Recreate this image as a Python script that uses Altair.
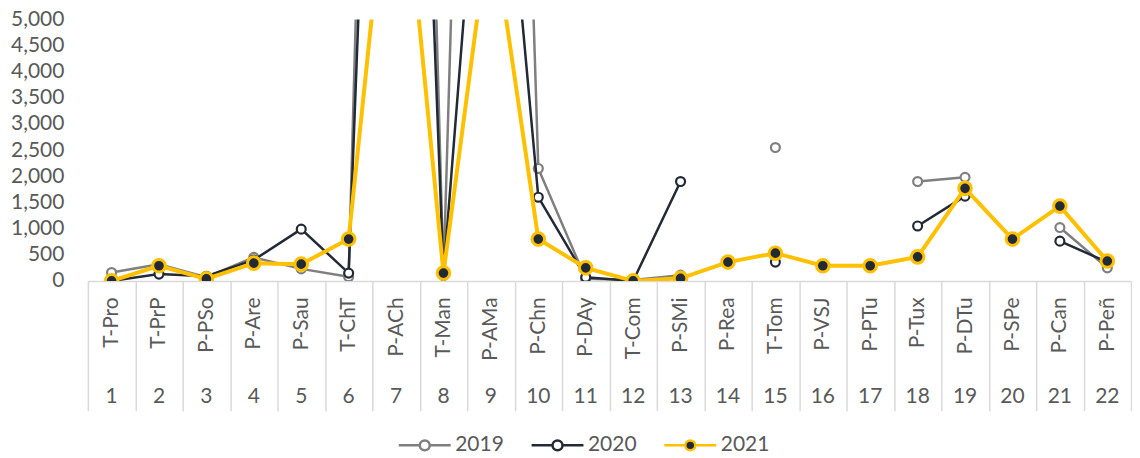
import altair as alt
import pandas as pd

names = ["T-Pro", "T-PrP", "P-PSo", "P-Are", "P-Sau", "T-ChT", "P-ACh", "T-Man",
         "P-AMa", "P-Chn", "P-DAy", "T-Com", "P-SMi", "P-Rea", "T-Tom", "P-VSJ",
         "P-PTu", "P-Tux", "P-DTu", "P-SPe", "P-Can", "P-Peñ"]
nums = ["1", "2", "3", "4", "5", "6", "7", "8", "9", "10", "11",
        "12", "13", "14", "15", "16", "17", "18", "19", "20", "21", "22"]

years = ["2019", "2020", "2021"]
v2019 = [160, 320, 70, 450, 230, 80, 33000, 100, 31000, 2150, 40, 20, 110, None,
         2550, None, None, 1900, 1980, None, 1020, 250]
v2020 = [0, 130, 90, 400, 990, 150, 24000, 120, 11600, 1600, 70, 0, 1900, None,
         360, None, None, 1050, 1620, None, 760, 360]
v2021 = [0, 290, 40, 340, 320, 800, 9500, 150, 7000, 800, 250, 0, 50, 360,
         530, 290, 290, 460, 1770, 800, 1430, 380]

line_colors = ["#7f7f7f", "#222a35", "#ffc000"]
marker_fills = ["#ffffff", "#ffffff", "#222a35"]

rows = []
for year, vals in zip(years, [v2019, v2020, v2021]):
    seg = 0
    for name, num, v in zip(names, nums, vals):
        if v is None:
            seg += 1
            continue
        rows.append(dict(year=year, name=name, num=num, value=v, seg=seg))
df = pd.DataFrame(rows)
labels_df = pd.DataFrame({"name": names, "num": nums})

W, H = 1045, 262
TXT = "#595959"
FS = 21

x_enc = alt.X(
    "name:N", sort=names,
    scale=alt.Scale(type="band", paddingInner=0, paddingOuter=0),
    axis=alt.Axis(title=None, labelAngle=270, labelAlign="right", labelBaseline="middle",
                  tickBand="extent", tickSize=130, tickColor="#d9d9d9", tickWidth=1.5,
                  domainColor="#d9d9d9", domainWidth=1.5, labelPadding=-114,
                  labelFontSize=FS, labelColor=TXT, labelOverlap=False, labelFlush=False),
)
y_enc = alt.Y(
    "value:Q",
    scale=alt.Scale(domain=[0, 5000], nice=False),
    axis=alt.Axis(title=None, values=list(range(0, 5001, 500)), format=",.0f", domain=False,
                  ticks=False, grid=False, labelPadding=24, labelFontSize=FS, labelColor=TXT),
)

sym = "M-2.6,0L-0.5,0M0.5,0L2.6,0M-0.5,0A0.5,0.5,0,1,0,0.5,0A0.5,0.5,0,1,0,-0.5,0Z"
legend = alt.Legend(title=None, orient="none", legendX=326, legendY=415, direction="horizontal",
                    symbolType=sym, symbolSize=400, symbolStrokeWidth=2.5,
                    labelFontSize=FS, labelColor=TXT, labelOffset=19, columnPadding=22)
stroke_enc = alt.Stroke("year:N", scale=alt.Scale(domain=years, range=line_colors), legend=legend)
fill_enc = alt.Fill("year:N", scale=alt.Scale(domain=years, range=marker_fills), legend=legend)

layers = []
widths = {"2019": 2.5, "2020": 2.5, "2021": 4}
sizes = {"2019": 80, "2020": 80, "2021": 160}
swidths = {"2019": 2.2, "2020": 2.2, "2021": 3}
for yr in years:
    base = alt.Chart(df).transform_filter(alt.datum.year == yr)
    layers.append(base.mark_line(strokeWidth=widths[yr], clip=True).encode(
        x=x_enc, y=y_enc, stroke=stroke_enc, detail="seg:N"))
    layers.append(base.mark_point(shape="circle", filled=True, opacity=1, size=sizes[yr],
                                  strokeWidth=swidths[yr], clip=True).encode(
        x=x_enc, y=y_enc, stroke=stroke_enc, fill=fill_enc))

nums_layer = alt.Chart(labels_df).mark_text(fontSize=FS, color=TXT, baseline="middle").encode(
    x=x_enc, y=alt.value(H + 116), text="num:N")
layers.append(nums_layer)

chart = alt.layer(*layers).properties(
    width=W, height=H, padding={"left": 2, "top": 0, "right": 0, "bottom": 0}
).configure(font="Lato").configure_view(stroke=None)

chart.save("out.html", embed_options={"renderer": "svg", "actions": False})
